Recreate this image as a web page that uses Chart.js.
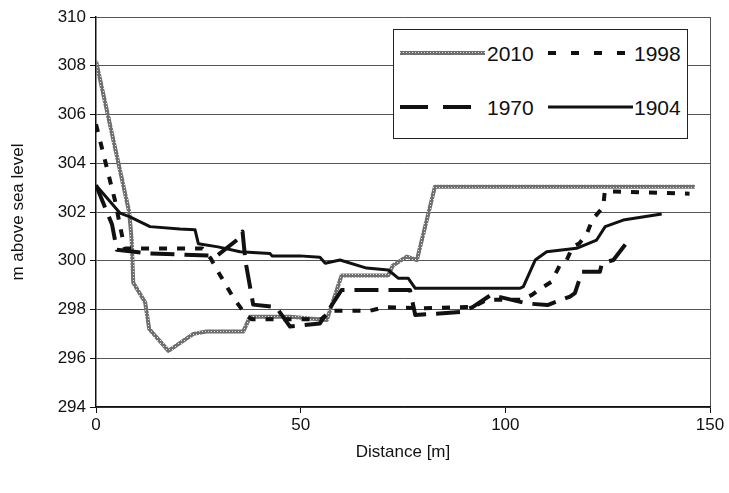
<!DOCTYPE html>
<html>
<head>
<meta charset="utf-8">
<script src="https://cdn.jsdelivr.net/npm/chart.js@4"></script>
<style>
html, body { margin: 0; padding: 0; background: #fff; }
#wrap { position: relative; width: 729px; height: 493px; }
#legend { position: absolute; left: 0; top: 0; }
</style>
</head>
<body>
<div id="wrap">
<canvas id="profileChart" width="729" height="493"></canvas>
<svg id="legend" width="729" height="493" font-family="Liberation Sans, Arial, sans-serif" font-size="21">
  <defs>
    <pattern id="chk" width="3" height="3" patternUnits="userSpaceOnUse">
      <rect width="3" height="3" fill="#6f6f6f"/>
      <rect x="1" y="1" width="1" height="1" fill="#e0e0e0"/>
    </pattern>
  </defs>
  <rect x="393.5" y="29.5" width="294" height="109" fill="#fff" stroke="#222"/>
  <line x1="400" y1="53" x2="485" y2="53" stroke="url(#chk)" stroke-width="4"/>
  <text x="487" y="53" dominant-baseline="central" fill="#111">2010</text>
  <line x1="548" y1="53" x2="630" y2="53" stroke="#111" stroke-width="4" stroke-dasharray="8 15"/>
  <text x="634" y="53" dominant-baseline="central" fill="#111">1998</text>
  <line x1="400" y1="107" x2="472" y2="107" stroke="#111" stroke-width="4" stroke-dasharray="28 15"/>
  <text x="487" y="107" dominant-baseline="central" fill="#111">1970</text>
  <line x1="548" y1="107" x2="633" y2="107" stroke="#111" stroke-width="3"/>
  <text x="634" y="107" dominant-baseline="central" fill="#111">1904</text>
</svg>
</div>
<script>
// cross-section profiles, distance [m] vs elevation [m a.s.l.]
const dist2010 = [0, 8.1, 8.7, 9.1, 12, 13, 17.7, 23.8, 27, 36, 37.6, 47.4, 56.4, 60, 71.4, 72.5, 75.9, 78.4, 82.8, 146.3];
const elev2010 = [308.2, 302.0, 300.9, 299.1, 298.3, 297.2, 296.3, 297.0, 297.1, 297.1, 297.7, 297.7, 297.57, 299.4, 299.4, 299.8, 300.17, 300.03, 303.04, 303.04];

const dist1998 = [0, 4.6, 7, 26, 28, 30, 33.5, 36.5, 38, 55, 57.5, 67, 70.5, 80, 90.6, 92, 95.5, 104, 106.5, 108.5, 111.3, 113.4, 115, 116.5, 118, 119.9, 121.3, 123.9, 124.3, 145];
const elev1998 = [305.6, 302.5, 300.5, 300.5, 300.1, 299.5, 298.5, 297.8, 297.6, 297.6, 297.95, 297.95, 298.1, 298.05, 298.1, 298.1, 298.4, 298.4, 298.6, 298.85, 299.14, 299.85, 300.03, 300.6, 300.7, 301.1, 301.7, 302.2, 302.85, 302.75];

const dist1970 = [0, 3.9, 5.1, 13, 29.5, 34.8, 35.8, 36.5, 38.4, 44, 47.4, 54.7, 60, 76.7, 78, 89, 92, 96.5, 105.2, 110.3, 115.8, 117, 118.7, 123.1, 123.6, 126.4, 129.7];
const elev1970 = [303.1, 301.5, 300.45, 300.3, 300.2, 300.9, 301.2, 300.0, 298.2, 298.1, 297.3, 297.43, 298.8, 298.8, 297.77, 297.9, 298.1, 298.6, 298.25, 298.18, 298.53, 298.67, 299.55, 299.55, 299.9, 300.03, 300.75];

const dist1904 = [0, 5.9, 8.3, 13.2, 20.5, 24.2, 25, 29.8, 35.2, 42.5, 43, 49.8, 54.7, 56, 59.6, 66.1, 71.4, 73.9, 76.3, 78, 103.6, 104.4, 107.3, 110.1, 117.4, 122.3, 124.4, 128.8, 138.2];
const elev1904 = [303.1, 301.95, 301.8, 301.4, 301.3, 301.27, 300.7, 300.57, 300.37, 300.3, 300.2, 300.2, 300.14, 299.9, 300.03, 299.7, 299.62, 299.28, 299.28, 298.87, 298.87, 298.94, 300.03, 300.37, 300.51, 300.85, 301.4, 301.67, 301.92];

const yTicks = [294, 296, 298, 300, 302, 304, 306, 308, 310];
const xTicks = [0, 50, 100, 150];

function toPoints(xs, ys) {
    return xs.map((x, i) => ({ x: x, y: ys[i] }));
}

// grey "chain" look of the 2010 line
function makePattern() {
    const c = document.createElement("canvas");
    c.width = 3; c.height = 3;
    const g = c.getContext("2d");
    g.fillStyle = "#6f6f6f";
    g.fillRect(0, 0, 3, 3);
    g.fillStyle = "#e0e0e0";
    g.fillRect(1, 1, 1, 1);
    return g.createPattern(c, "repeat");
}

const tickFont = { family: "Liberation Sans, Arial, sans-serif", size: 17 };

const ctx = document.getElementById("profileChart");
new Chart(ctx, {
    type: "line",
    data: {
        datasets: [
            { label: "1904", data: toPoints(dist1904, elev1904), borderColor: "#111", borderWidth: 3 },
            { label: "1970", data: toPoints(dist1970, elev1970), borderColor: "#111", borderWidth: 4, borderDash: [24, 10] },
            { label: "1998", data: toPoints(dist1998, elev1998), borderColor: "#111", borderWidth: 4, borderDash: [8, 10] },
            { label: "2010", data: toPoints(dist2010, elev2010), borderColor: makePattern(), borderWidth: 4 }
        ]
    },
    options: {
        responsive: false,
        animation: false,
        layout: { padding: { top: 17, right: 19, bottom: 0, left: 0 } },
        elements: {
            point: { radius: 0 },
            line: { tension: 0, borderJoinStyle: "round", fill: false }
        },
        plugins: { legend: { display: false }, tooltip: { enabled: false } },
        scales: {
            x: {
                type: "linear",
                min: 0, max: 150,
                afterFit: s => { s.height = 86; },
                afterBuildTicks: s => { s.ticks = xTicks.map(v => ({ value: v })); },
                ticks: { color: "#111", font: tickFont, padding: 2, maxRotation: 0 },
                grid: {
                    drawTicks: true, tickLength: 6, tickColor: "#111",
                    color: c => (c.tick && c.tick.value === 150) ? "#555" : "rgba(0,0,0,0)",
                    lineWidth: 1
                },
                border: { color: "#111", width: 1.5 },
                title: { display: true, text: "Distance [m]", color: "#111", font: tickFont, padding: { top: 0, bottom: 30 } }
            },
            y: {
                min: 294, max: 310,
                afterFit: s => { s.width = 96; },
                afterBuildTicks: s => { s.ticks = yTicks.map(v => ({ value: v })); },
                ticks: { color: "#111", font: tickFont, padding: 4 },
                grid: { color: "#555", lineWidth: 1, drawTicks: true, tickLength: 6, tickColor: "#111" },
                border: { color: "#111", width: 1.5 },
                title: { display: true, text: "m above sea level", color: "#111", font: tickFont, padding: { top: 8, bottom: 0 } }
            }
        }
    }
});
</script>
</body>
</html>
